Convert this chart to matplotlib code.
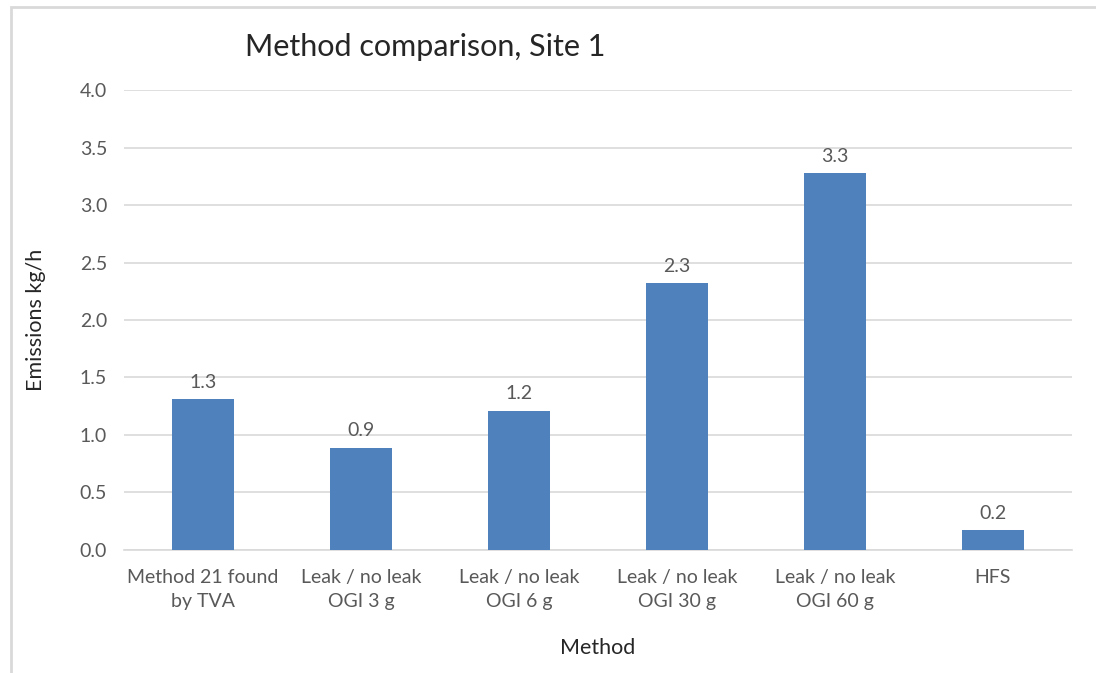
import numpy as np
import matplotlib.pyplot as plt
from matplotlib.patches import Rectangle

methods = ["Method 21 found\nby TVA", "Leak / no leak\nOGI 3 g", "Leak / no leak\nOGI 6 g",
           "Leak / no leak\nOGI 30 g", "Leak / no leak\nOGI 60 g", "HFS"]
emissions = [1.31, 0.89, 1.21, 2.32, 3.28, 0.17]
yticks = [0.0, 0.5, 1.0, 1.5, 2.0, 2.5, 3.0, 3.5, 4.0]

plt.rcParams["font.family"] = ["Lato", "DejaVu Sans"]
txt = "#595959"
grid = "#d9d9d9"

fig = plt.figure(figsize=(10.96, 6.73), dpi=100)
ax = fig.add_axes([0.113, 0.183, 0.865, 0.683])

x = np.arange(len(methods))
ax.bar(x, emissions, width=0.39, color="#4f81bd", zorder=3)

# value labels above bars
for xi, v in zip(x, emissions):
    ax.annotate(f"{v:.1f}", (xi, v), xytext=(0, 6), textcoords="offset points",
                ha="center", va="bottom", fontsize=14, color=txt)

ax.set_xlim(-0.5, len(methods) - 0.5)
ax.set_ylim(0, 4)
ax.set_yticks(yticks)
ax.set_yticklabels([f"{t:.1f}" for t in yticks])
ax.set_xticks(x)
ax.set_xticklabels(methods, linespacing=1.5)
ax.tick_params(axis="both", length=0, labelsize=14, labelcolor=txt)
ax.tick_params(axis="x", pad=14)
ax.tick_params(axis="y", pad=12)
ax.grid(axis="y", color=grid, linewidth=1.2, zorder=0)
for s in ["top", "right", "left"]:
    ax.spines[s].set_visible(False)
ax.spines["bottom"].set_color(grid)
ax.spines["bottom"].set_linewidth(1.2)

ax.set_ylabel("Emissions kg/h", fontsize=15.5, color="#262626", labelpad=24)
ax.set_xlabel("Method", fontsize=15.5, color="#262626", labelpad=20)

fig.text(0.388, 0.93, "Method comparison, Site 1", fontsize=22, color="#262626",
         ha="center", va="center")

# chart area border
fig.patches.append(Rectangle((11 / 1096, -0.05), 1.2, 1 - 7 / 673 + 0.05,
                             transform=fig.transFigure, fill=False,
                             edgecolor="#d9d9d9", linewidth=2))

fig.savefig("out.png", dpi=100)
